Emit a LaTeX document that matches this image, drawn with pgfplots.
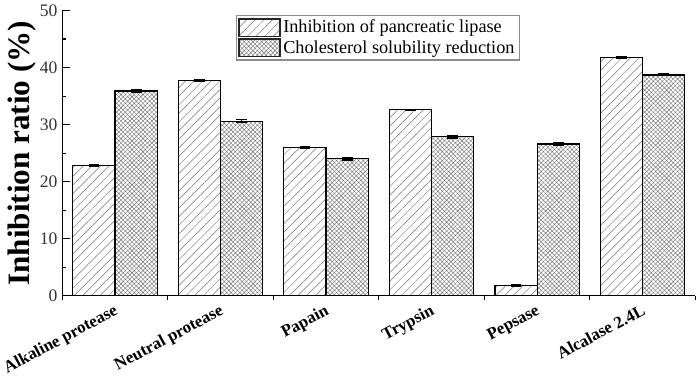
\documentclass[border=0pt]{standalone}
\usepackage{fontspec}
\setmainfont{Liberation Serif}
\usepackage{pgfplots}
\pgfplotsset{compat=1.18}
\usetikzlibrary{patterns.meta}
\begin{document}
\begin{tikzpicture}
\begin{axis}[
  scale only axis,
  width=468pt, height=211pt,
  xmin=-0.5, xmax=5.5,
  ymin=0, ymax=50,
  ytick={0,10,20,30,40,50},
  minor y tick num=1,
  xtick={0,1,2,3,4,5},
  xticklabels={Alkaline protease,Neutral protease,Papain,Trypsin,Pepsase,Alcalase 2.4L},
  minor xtick={-0.5,0.5,1.5,2.5,3.5,4.5,5.5},
  major x tick style={draw=none},
  axis x line*=bottom, axis y line*=left,
  axis line style={line width=0.9pt},
  tick style={line width=0.8pt, black},
  tick align=inside,
  major tick length=6pt, minor tick length=3pt,
  /pgf/number format/assume math mode=true,
  yticklabel style={font=\fontsize{13}{15}\selectfont, text=black!80},
  xticklabel style={rotate=28, anchor=north east, font=\bfseries\fontsize{12.5}{14}\selectfont, inner sep=1pt, yshift=2pt},
  ylabel={Inhibition ratio (\%)},
  ylabel style={font=\bfseries\fontsize{23}{26}\selectfont, yshift=-4pt},
  ybar=0pt, bar width=0.4,
  legend style={at={(0.274,0.985)}, anchor=north west, draw=black!45, line width=1pt,
    font=\fontsize{13.5}{15}\selectfont, row sep=0pt, inner sep=1.5pt, cells={anchor=west}},
  legend image code/.code={\draw[#1, line width=1.1pt, draw=black!85] (0pt,-6.5pt) rectangle (30pt,6.5pt);},
  error bars/y dir=both, error bars/y explicit,
  error bars/error mark options={rotate=90, mark size=4pt, line width=0.9pt},
  error bars/error bar style={line width=0.9pt},
]
\addplot[draw=black, line width=0.9pt, pattern={Lines[angle=45,distance=4.5pt,line width=0.35pt]}, pattern color=black!55]
  coordinates {(0,22.8) +- (0,0.15) (1,37.7) +- (0,0.2) (2,26.0) +- (0,0.1) (3,32.6) +- (0,0.1) (4,1.8) +- (0,0.1) (5,41.7) +- (0,0.15)};
\addplot[draw=black, line width=0.9pt, pattern={Hatch[angle=45,distance=2.3pt,line width=0.3pt]}, pattern color=black!55]
  coordinates {(0,35.9) +- (0,0.2) (1,30.6) +- (0,0.25) (2,24.0) +- (0,0.2) (3,27.9) +- (0,0.25) (4,26.6) +- (0,0.2) (5,38.7) +- (0,0.15)};
\legend{Inhibition of pancreatic lipase,Cholesterol solubility reduction}
\end{axis}
\end{tikzpicture}
\end{document}
